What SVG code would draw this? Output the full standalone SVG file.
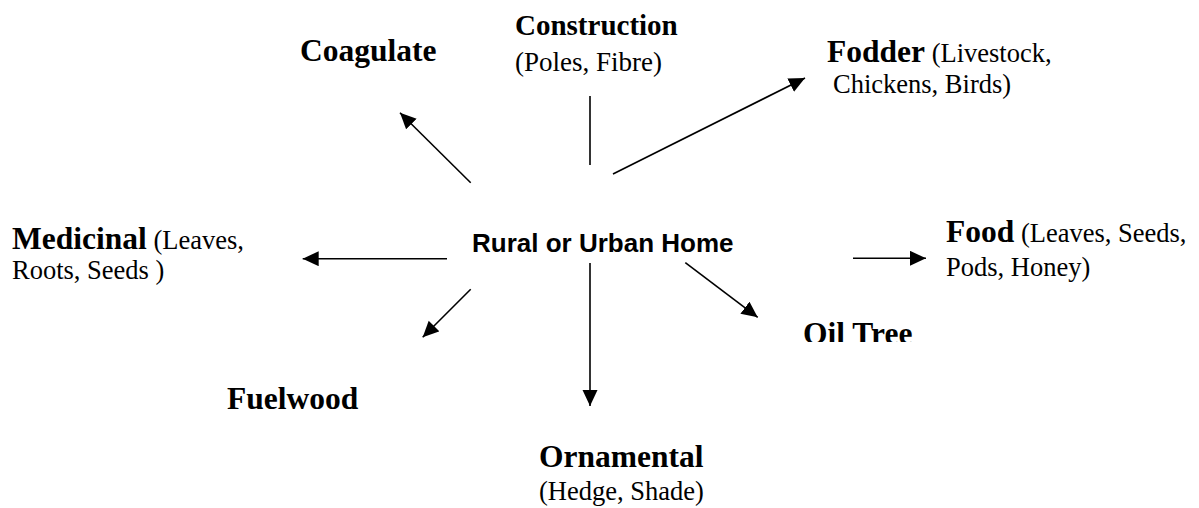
<svg xmlns="http://www.w3.org/2000/svg" width="1199" height="508" viewBox="0 0 1199 508">
<style>
.b{font-family:"Liberation Serif","Times New Roman",serif;font-weight:bold;font-size:31.5px;fill:#000}
.r{font-family:"Liberation Serif","Times New Roman",serif;font-weight:normal;font-size:26.5px;fill:#000}
.h{font-family:"Liberation Sans",Arial,sans-serif;font-weight:bold;font-size:26px;fill:#000}
.c{stroke:#000;stroke-width:1.6;fill:none}
</style>
<defs>
<marker id="ah" markerUnits="userSpaceOnUse" markerWidth="17" markerHeight="16" refX="16" refY="7.5" orient="auto">
<path d="M0,0 L16,7.5 L0,15 Z" fill="#000"/>
</marker>
<clipPath id="oilclip"><rect x="780" y="290" width="180" height="52"/></clipPath>
</defs>
<rect width="1199" height="508" fill="#fff"/>
<g id="connectors">
<line class="c" x1="470.7" y1="182.7" x2="400" y2="112.7" marker-end="url(#ah)"/>
<line class="c" x1="590" y1="96" x2="590" y2="165"/>
<line class="c" x1="613" y1="174" x2="805" y2="78" marker-end="url(#ah)"/>
<line class="c" x1="447" y1="258.7" x2="302.7" y2="258.7" marker-end="url(#ah)"/>
<line class="c" x1="853" y1="258.3" x2="926" y2="258.3" marker-end="url(#ah)"/>
<line class="c" x1="470.7" y1="289.3" x2="422.7" y2="337.3" marker-end="url(#ah)"/>
<line class="c" x1="590" y1="263" x2="590" y2="406" marker-end="url(#ah)"/>
<line class="c" x1="685.3" y1="262.7" x2="757.7" y2="317.3" marker-end="url(#ah)"/>
</g>
<g id="home"><text class="h" x="472" y="252">Rural or Urban Home</text></g>
<g id="coagulate"><text class="b" x="300" y="61">Coagulate</text></g>
<g id="construction">
<text class="b" x="515" y="35" style="font-size:29px">Construction</text>
<text class="r" x="515" y="71" style="font-size:27px">(Poles, Fibre)</text>
</g>
<g id="fodder">
<text class="b" x="827" y="62">Fodder<tspan class="r"> (Livestock,</tspan></text>
<text class="r" x="833" y="93">Chickens, Birds)</text>
</g>
<g id="medicinal">
<text class="b" x="12" y="249">Medicinal<tspan class="r"> (Leaves,</tspan></text>
<text class="r" x="12" y="279">Roots, Seeds )</text>
</g>
<g id="food">
<text class="b" x="946" y="242">Food<tspan class="r"> (Leaves, Seeds,</tspan></text>
<text class="r" x="946" y="276">Pods, Honey)</text>
</g>
<g id="oiltree"><text class="b" x="803" y="344" clip-path="url(#oilclip)">Oil Tree</text></g>
<g id="fuelwood"><text class="b" x="227" y="409">Fuelwood</text></g>
<g id="ornamental">
<text class="b" x="539" y="467">Ornamental</text>
<text class="r" x="539" y="500">(Hedge, Shade)</text>
</g>
</svg>
